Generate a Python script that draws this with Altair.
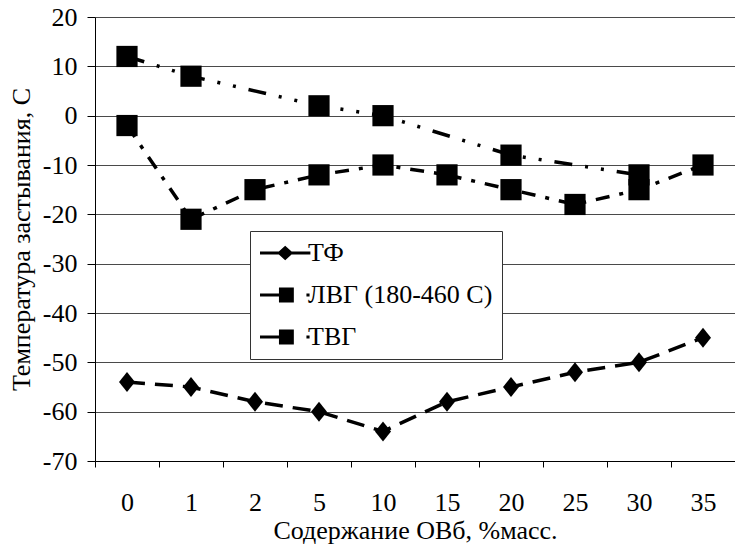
import altair as alt
import pandas as pd

categories = ["0", "1", "2", "5", "10", "15", "20", "25", "30", "35"]
series_names = ["ТФ", "ЛВГ (180-460 С)", "ТВГ"]
tf = [-54, -55, -58, -60, -64, -58, -55, -52, -50, -45]
lvg = [-2, -21, -15, -12, -10, -12, -15, -18, -15, -10]
tvg = [12, 8, None, 2, 0, None, -8, None, -12, None]
y_ticks = [-70, -60, -50, -40, -30, -20, -10, 0, 10, 20]

rows = []
for name, vals in zip(series_names, [tf, lvg, tvg]):
    for i, (c, v) in enumerate(zip(categories, vals)):
        if v is not None:
            rows.append({"x": c, "y": v, "series": name, "order": i})
df = pd.DataFrame(rows)

FONT = "'Times New Roman', 'Liberation Serif', 'DejaVu Serif', serif"
FS = 26

x_enc = alt.X("x:N", sort=categories,
              scale=alt.Scale(domain=categories, paddingInner=0, paddingOuter=0),
              axis=alt.Axis(title="Содержание ОВб, %масс.", labelAngle=0,
                            tickBand="extent", tickSize=6, labelPadding=22,
                            titlePadding=2, grid=False))
y_enc = alt.Y("y:Q", scale=alt.Scale(domain=[-70, 20], nice=False, zero=False),
              axis=alt.Axis(title="Температура застывания, С", values=y_ticks,
                            labelExpr="'' + datum.value",
                            tickSize=8, labelPadding=10, titlePadding=8,
                            grid=True, gridColor="#4a4a4a", gridWidth=1))

base = alt.Chart(df)

dashes = {
    "ТФ": [18, 10],
    "ЛВГ (180-460 С)": [14, 10, 4, 10],
    "ТВГ": [18, 13, 3, 13, 3, 13],
}
line_layers = []
for name in series_names:
    line_layers.append(
        base.transform_filter(alt.datum.series == name).mark_line(
            color="black", strokeWidth=3.5, strokeDash=dashes[name]
        ).encode(x=x_enc, y=y_enc, order="order:Q")
    )

diamonds = base.transform_filter(alt.datum.series == "ТФ").mark_point(
    filled=True, color="black", opacity=1, size=400,
    shape="M0,-1L0.8,0L0,1L-0.8,0Z").encode(x=x_enc, y=y_enc)

squares = base.transform_filter(alt.datum.series != "ТФ").mark_point(
    filled=True, color="black", opacity=1, size=450, shape="square").encode(x=x_enc, y=y_enc)

legend_paths = [
    "M-1,-0.12H3.2V0.12H-1Z M1.1,-0.6L1.77,0L1.1,0.6L0.43,0Z",
    "M-1,-0.12H0.7V0.12H-1Z M0.58,-0.62H1.82V0.62H0.58Z M2.87,-0.13H3.13V0.13H2.87Z",
    "M-1,-0.12H0.7V0.12H-1Z M0.58,-0.62H1.82V0.62H0.58Z M2.87,-0.13H3.13V0.13H2.87Z",
]

legend_layer = base.mark_point(filled=True, color="black", opacity=0).encode(
    x=x_enc, y=y_enc,
    shape=alt.Shape("series:N",
                    scale=alt.Scale(domain=series_names, range=legend_paths),
                    legend=alt.Legend(title=None, orient="none", legendX=155, legendY=214,
                                      symbolSize=576, symbolStrokeWidth=0,
                                      symbolFillColor="black", symbolOpacity=1,
                                      labelFont=FONT, labelFontSize=FS, labelColor="black",
                                      labelOffset=23, rowPadding=16, padding=9,
                                      fillColor="white", strokeColor="#333333",
                                      labelLimit=400)),
)

chart = alt.layer(*line_layers, diamonds, squares, legend_layer).properties(
    width=640, height=444,
    autosize=alt.AutoSizeParams(type="none"),
    padding={"left": 95, "top": 17, "right": 0, "bottom": 85},
).configure_view(stroke=None).configure_axis(
    labelFont=FONT, titleFont=FONT, labelFontSize=FS, titleFontSize=FS,
    labelColor="black", titleColor="black", titleFontWeight="normal",
    domainColor="black", tickColor="black", domainWidth=1, tickWidth=1,
)

chart.save("out.html", embed_options={"renderer": "svg", "actions": False})
